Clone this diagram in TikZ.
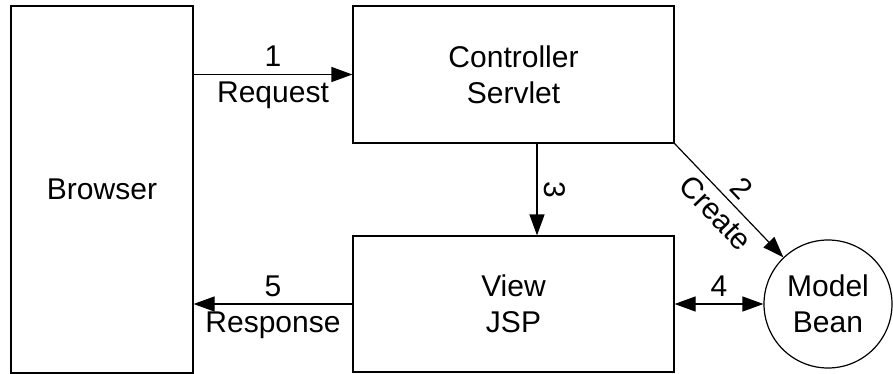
\documentclass[tikz,border=0pt]{standalone}
\usepackage{fontspec}
\setmainfont{Liberation Sans}
\usetikzlibrary{positioning, arrows.meta}
\tikzstyle{block}=[draw, line width=1.2pt, align=center, inner sep=0pt]
\tikzstyle{bean}=[draw, circle, line width=1.2pt, align=center, inner sep=0pt, minimum size=128pt]
\tikzstyle{msg}=[inner sep=7pt]

\begin{document}
\begin{tikzpicture}[x=1pt, y=-1pt, auto, line width=1.2pt,
    >={Triangle[length=21pt, width=15pt]},
    font=\fontsize{30}{36}\selectfont]
        \useasboundingbox (0,0) rectangle (893,374);

        % BROWSER
        \node[block, minimum width=182pt, minimum height=367pt] (browser) at (102,189.5) {Browser};

        % CONTROLLER -> VIEW
        \node[block, minimum width=321pt, minimum height=137pt] (controller) at (513.5,74.5) {Controller\\Servlet};
        \node[block, minimum width=321pt, minimum height=136pt] (view) at (513.5,304) {View\\JSP};

        % MODEL
        \node[bean] (model) at (828,304) {Model\\Bean};

        \path[->]
        (browser.east |- controller) edge node[msg, above] {1} node[msg, below] {Request} (controller)
        (controller.south east) edge node[msg, sloped, above] {2} node[msg, sloped, below] {Create} (model)
        ([xshift=23.5pt]controller.south) edge node[msg, sloped, above] {3} ([xshift=23.5pt]controller.south |- view.north)
        (view) edge node[msg, above] {5} node[msg, below] {Response} (view -| browser.east);
        \path[<->]
        (view.east) edge node[msg, above] {4} (model);
    \end{tikzpicture}
\end{document}
